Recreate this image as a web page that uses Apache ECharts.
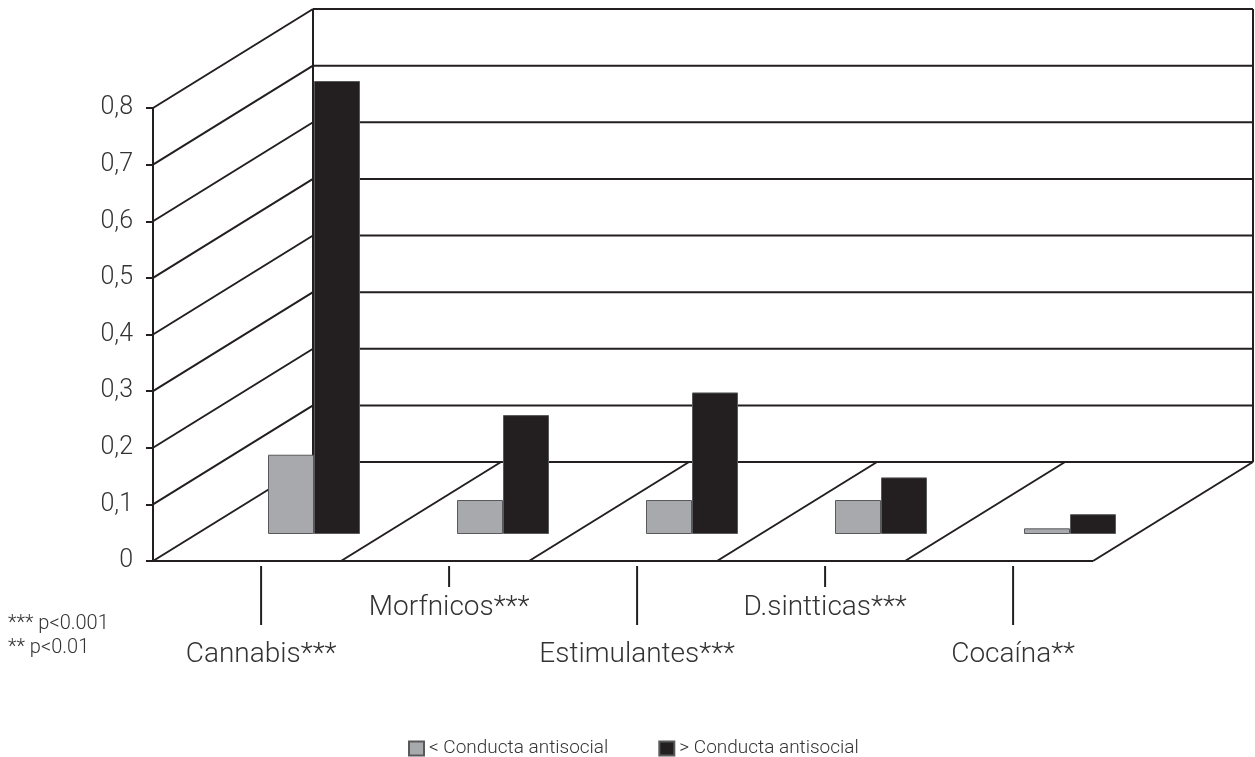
<!DOCTYPE html>
<html>
<head>
<meta charset="utf-8">
<script src="https://cdn.jsdelivr.net/npm/echarts@6/dist/echarts.min.js"></script>
<style>
  html, body { margin: 0; padding: 0; background: #fff; }
  #chart { width: 1255px; height: 757px; }
</style>
</head>
<body>
<div id="chart"></div>
<script>
// Drug use by level of antisocial behaviour
const categories = ['Cannabis***', 'Morfnicos***', 'Estimulantes***', 'D.sintticas***', 'Cocaína**'];
const lowAntisocial = [0.14, 0.06, 0.06, 0.06, 0.01];
const highAntisocial = [0.80, 0.21, 0.25, 0.10, 0.035];
const yTicks = [0, 0.1, 0.2, 0.3, 0.4, 0.5, 0.6, 0.7, 0.8];
const yTickLabels = ['0', '0,1', '0,2', '0,3', '0,4', '0,5', '0,6', '0,7', '0,8'];
const seriesNames = ['< Conducta antisocial', '> Conducta antisocial'];
const footnotes = ['*** p<0.001', '** p<0.01'];

const LINE = '#231f20';
const TEXT = '#333333';
const FONT = 'Roboto, "Liberation Sans", sans-serif';
// oblique depth offset of the back wall relative to the front plane
const DEPTH = [160, -99];

const chart = echarts.init(document.getElementById('chart'), null, { renderer: 'canvas' });

function seg(a, b) {
  return {
    type: 'line',
    shape: { x1: a[0], y1: a[1], x2: b[0], y2: b[1] },
    style: { stroke: LINE, lineWidth: 2 }
  };
}
function back(p) { return [p[0] + DEPTH[0], p[1] + DEPTH[1]]; }

// walls, floor and gridlines of the box
function renderFrame(params, api) {
  const n = categories.length;
  const children = [];
  yTicks.forEach(function (v) {
    const f = api.coord([0, v]);
    children.push(seg(f, back(f)));
    children.push(seg(back(f), back(api.coord([n, v]))));
  });
  const top = yTicks[yTicks.length - 1];
  children.push(seg(back(api.coord([0, 0])), back(api.coord([0, top]))));
  children.push(seg(back(api.coord([n, 0])), back(api.coord([n, top]))));
  children.push(seg(api.coord([0, 0]), api.coord([n, 0])));
  children.push(seg(api.coord([n, 0]), back(api.coord([n, 0]))));
  for (let i = 1; i < n; i++) {
    const f = api.coord([i, 0]);
    children.push(seg(f, back(f)));
  }
  return { type: 'group', children: children };
}

// category tick marks and staggered labels under the floor
function renderCategory(params, api) {
  const i = params.dataIndex;
  const p = api.coord([i + 0.575, 0]);
  const low = i % 2 === 0;
  return {
    type: 'group',
    children: [
      seg([p[0], p[1] + 5], [p[0], p[1] + (low ? 64 : 26)]),
      {
        type: 'text',
        style: {
          text: categories[i],
          x: p[0], y: p[1] + (low ? 94 : 47),
          align: 'center', verticalAlign: 'middle',
          fill: TEXT, font: '300 28px ' + FONT
        }
      }
    ]
  };
}

const option = {
  backgroundColor: '#fff',
  animation: false,
  textStyle: { fontFamily: FONT, fontWeight: 300 },
  grid: [
    { left: 153, top: 108, width: 940, height: 453 },
    { left: 219.5, top: 81, width: 945, height: 453 }
  ],
  xAxis: [
    { gridIndex: 0, type: 'value', min: 0, max: categories.length, show: false },
    { gridIndex: 1, type: 'category', data: categories, show: false }
  ],
  yAxis: [
    {
      gridIndex: 0, type: 'value', min: 0, max: 0.8, interval: 0.1,
      axisLine: { show: true, lineStyle: { color: LINE, width: 2 } },
      axisTick: { show: true, length: 7, lineStyle: { color: LINE, width: 2 } },
      splitLine: { show: false },
      axisLabel: {
        margin: 20, fontSize: 25, color: TEXT, fontFamily: FONT, fontWeight: 300,
        formatter: function (v) {
          const k = yTicks.findIndex(function (t) { return Math.abs(t - v) < 1e-6; });
          return k >= 0 ? yTickLabels[k] : '';
        }
      }
    },
    { gridIndex: 1, type: 'value', min: 0, max: 0.8, show: false }
  ],
  legend: {
    data: seriesNames,
    left: 408, top: 739,
    itemWidth: 15, itemHeight: 14, itemGap: 50, padding: 0,
    icon: 'rect',
    textStyle: { fontSize: 19, color: TEXT, fontFamily: FONT, fontWeight: 300 }
  },
  graphic: footnotes.map(function (t, k) {
    return {
      type: 'text', left: 8, top: 614 + k * 24,
      style: { text: t, fill: TEXT, font: '300 20px ' + FONT }
    };
  }),
  series: [
    {
      type: 'custom', name: 'frame', xAxisIndex: 0, yAxisIndex: 0,
      silent: true, z: 1, data: [[0, 0]], renderItem: renderFrame
    },
    {
      type: 'custom', name: 'categories', xAxisIndex: 0, yAxisIndex: 0,
      silent: true, z: 1, data: categories.map(function (c, i) { return [i, 0]; }),
      renderItem: renderCategory
    },
    {
      type: 'bar', name: seriesNames[0], xAxisIndex: 1, yAxisIndex: 1,
      data: lowAntisocial, barWidth: 46, barGap: '0%', z: 3,
      itemStyle: { color: '#a7a9ac', borderColor: '#58595b', borderWidth: 1 }
    },
    {
      type: 'bar', name: seriesNames[1], xAxisIndex: 1, yAxisIndex: 1,
      data: highAntisocial, barWidth: 46, z: 3,
      itemStyle: { color: '#231f20', borderColor: '#58595b', borderWidth: 1 }
    }
  ]
};

chart.setOption(option);
</script>
</body>
</html>
